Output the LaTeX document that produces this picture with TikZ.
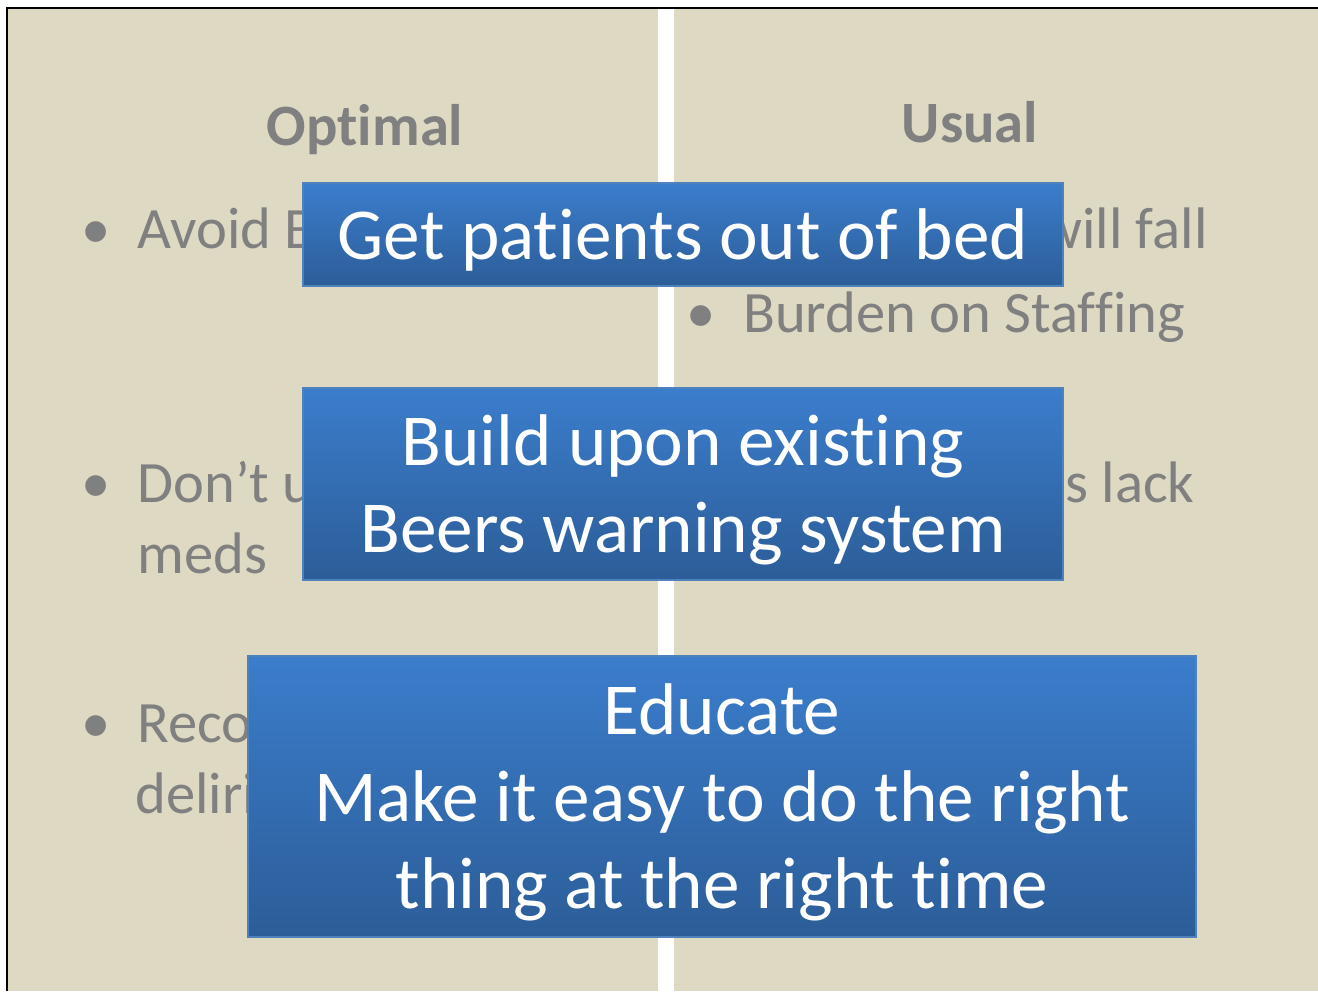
\documentclass[tikz,border=0pt]{standalone}
\usepackage{fontspec}
\setmainfont{Carlito}[Ligatures=NoCommon]
\usetikzlibrary{positioning}

\definecolor{panelbeige}{RGB}{221,217,195}
\definecolor{textgray}{RGB}{128,128,128}
\definecolor{boxtop}{RGB}{59,125,204}
\definecolor{boxbottom}{RGB}{44,93,152}
\definecolor{boxline}{RGB}{79,129,189}

\begin{document}
\begin{tikzpicture}[x=0.5463pt, y=-0.5463pt,
  panel/.style={fill=panelbeige, draw=none},
  heading/.style={text=textgray, inner sep=0pt,
    font=\bfseries\fontsize{32pt}{39pt}\selectfont},
  point/.style={text=textgray, inner sep=0pt,
    font=\fontsize{32pt}{39pt}\selectfont},
  banner/.style={draw=boxline, line width=0.8pt, top color=boxtop,
    bottom color=boxbottom, text=white, align=center, inner sep=0pt,
    text depth=0pt, font=\fontsize{40pt}{47.5pt}\selectfont}]
  \useasboundingbox (0,0) rectangle (1318,991);
  \fill[white] (0,0) rectangle (1318,991);
  % the two columns
  \fill[panel] (8,9) rectangle (658,991);
  \fill[panel] (674,9) rectangle (1318,991);
  \draw[line width=1.6pt] (7,991) -- (7,8) -- (1318,8);
  % column text
  \node[heading, anchor=base] (optimal) at (365,145) {Optimal};
  \node[heading, anchor=base] (usual) at (970,142) {Usual};
  \node[point, anchor=base] (dot1) at (96,248) {\textbullet};
  \node[point, anchor=base west] (avoid) at (137,248) {Avoid B};
  \node[point, anchor=base east] (fall) at (1208,248) {will fall};
  \node[point, anchor=base] (dot2) at (701,332) {\textbullet};
  \node[point, anchor=base west] (staff) at (743,332) {Burden on Staffing};
  \node[point, anchor=base] (dot3) at (96,502) {\textbullet};
  \node[point, anchor=base west] (dont) at (137,502) {Don’t u};
  \node[point, anchor=base west] (meds) at (137,573) {meds};
  \node[point, anchor=base east] (lack) at (1195,502) {s lack};
  \node[point, anchor=base] (dot4) at (96,742) {\textbullet};
  \node[point, anchor=base west] (reco) at (137,742) {Reco};
  \node[point, anchor=base west] (deli) at (135,813) {deliri};
  % overlaid banners
  \node[banner, minimum width=415.2pt, minimum height=56.3pt] (bed)
    at (683,234.5) {Get patients out of bed};
  \node[banner, minimum width=415.2pt, minimum height=104.9pt] (beers)
    at (683,484) {Build upon existing\\Beers warning system};
  \node[banner, minimum width=517.9pt, minimum height=153.5pt] (educate)
    at (722,796.5) {Educate\\Make it easy to do the right\\thing at the right time};
\end{tikzpicture}
\end{document}
